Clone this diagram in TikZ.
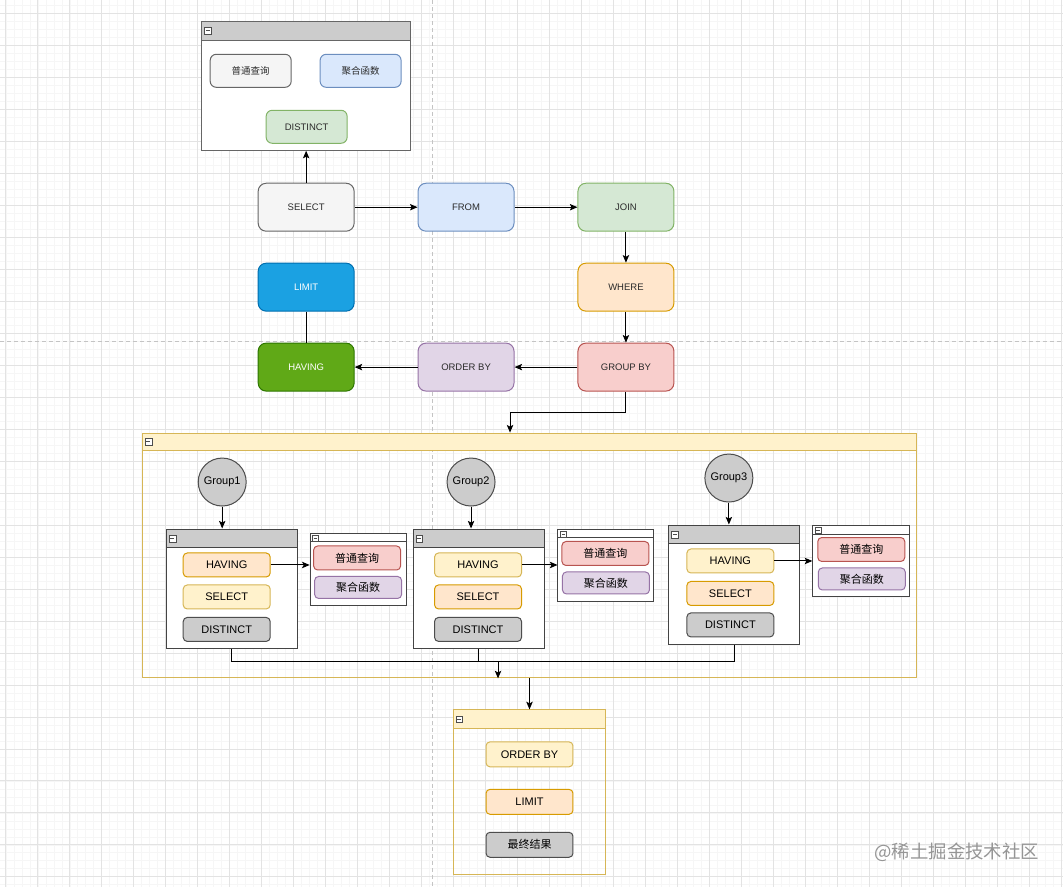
\documentclass[tikz,border=0pt]{standalone}
\usepackage{fontspec}
\setmainfont{Liberation Sans}
\newfontfamily\cjk{Noto Sans CJK SC}
\usetikzlibrary{arrows.meta}

\definecolor{gridmajor}{HTML}{E3E3E3}
\definecolor{gridminor}{HTML}{F6F6F6}
\definecolor{pageline}{HTML}{C4C4C4}
\definecolor{headgray}{HTML}{CCCCCC}
\definecolor{boxline}{HTML}{666666}
\definecolor{innerline}{HTML}{444444}
\definecolor{textgray}{HTML}{2B2B2B}
\definecolor{grayfill}{HTML}{F5F5F5}
\definecolor{grayline}{HTML}{666666}
\definecolor{bluefill}{HTML}{DAE8FC}
\definecolor{blueline}{HTML}{6C8EBF}
\definecolor{greenfill}{HTML}{D5E8D4}
\definecolor{greenline}{HTML}{82B366}
\definecolor{orangefill}{HTML}{FFE6CC}
\definecolor{orangeline}{HTML}{D79B00}
\definecolor{yellowfill}{HTML}{FFF2CC}
\definecolor{yellowline}{HTML}{D6B656}
\definecolor{redfill}{HTML}{F8CECC}
\definecolor{redline}{HTML}{B85450}
\definecolor{purplefill}{HTML}{E1D5E7}
\definecolor{purpleline}{HTML}{9673A6}
\definecolor{limitfill}{HTML}{1BA1E2}
\definecolor{limitline}{HTML}{006EAF}
\definecolor{havingfill}{HTML}{60A917}
\definecolor{havingline}{HTML}{2D7600}
\definecolor{darkfill}{HTML}{CCCCCC}
\definecolor{darkline}{HTML}{4D4D4D}
\definecolor{markgray}{HTML}{959595}

\begin{document}
\begin{tikzpicture}[x=0.5pt,y=-0.5pt,line width=0.5pt,
            >={Stealth[length=3.8pt,width=3.2pt,inset=0.8pt]},
            flow node/.style={draw,rounded corners=4pt,minimum width=48pt,minimum height=24pt,
              inner sep=0pt,text=textgray,font=\fontsize{4.75}{6}\selectfont},
            top node/.style={draw,rounded corners=3pt,minimum width=40.5pt,minimum height=16.5pt,
              inner sep=0pt,text=textgray,font=\fontsize{4.75}{6}\selectfont},
            small node/.style={draw,rounded corners=2pt,minimum width=43.5pt,minimum height=12pt,
              inner sep=0pt,text=black,font=\fontsize{5.5}{6.5}\selectfont},
            group node/.style={circle,draw=darkline,fill=darkfill,minimum size=24pt,
              inner sep=0pt,font=\fontsize{5.5}{6.5}\selectfont},
            container/.style={draw,inner sep=0pt},
            head/.style={draw,inner sep=0pt},
            icon/.style={draw=darkline,fill=white,line width=0.3pt,minimum size=3.4pt,inner sep=0pt,anchor=west,
              path picture={\draw[line width=0.35pt] ([xshift=0.7pt]path picture bounding box.west)
                -- ([xshift=-0.7pt]path picture bounding box.east);}},
            link/.style={->,black},
            tone gray/.style={fill=grayfill,draw=grayline},
            tone blue/.style={fill=bluefill,draw=blueline},
            tone green/.style={fill=greenfill,draw=greenline},
            tone orange/.style={fill=orangefill,draw=orangeline},
            tone yellow/.style={fill=yellowfill,draw=yellowline},
            tone red/.style={fill=redfill,draw=redline},
            tone purple/.style={fill=purplefill,draw=purpleline},
            tone dark/.style={fill=darkfill,draw=darkline}]

        % Background grid and page breaks
        \fill[white] (0,0) rectangle (1063,887);
        \foreach \gx in {5.5,13.5,...,1063} \draw[gridminor,line width=0.3pt] (\gx,0) -- (\gx,887);
        \foreach \gy in {5,13,...,887} \draw[gridminor,line width=0.3pt] (0,\gy) -- (1063,\gy);
        \foreach \gx in {5.5,37.5,...,1063} \draw[gridmajor,line width=0.35pt] (\gx,0) -- (\gx,887);
        \foreach \gy in {13,45,...,887} \draw[gridmajor,line width=0.35pt] (0,\gy) -- (1063,\gy);
        \draw[pageline,dashed,dash pattern=on 2pt off 1.5pt,line width=0.35pt] (432,0) -- (432,887);
        \draw[pageline,dashed,dash pattern=on 2pt off 1.5pt,line width=0.35pt] (0,341) -- (1063,341);

        % SELECT contents
        \node[container,fill=white,draw=boxline,minimum width=104.5pt,minimum height=64.5pt] (select-box) at (306,85.5) {};
        \node[head,fill=headgray,draw=boxline,minimum width=104.5pt,minimum height=9.5pt,anchor=north] (select-head) at (select-box.north) {};
        \node[icon] at ([xshift=1.5pt]select-head.west) {};
        \node[top node,tone gray] (plain-top) at (250.5,70.5) {\cjk 普通查询};
        \node[top node,tone blue] (agg-top) at (360.5,70.5) {\cjk 聚合函数};
        \node[top node,tone green] (distinct-top) at (306.5,126.5) {DISTINCT};

        % Define vertices
        \node[flow node,tone gray] (select) at (306,207) {SELECT};
        \node[flow node,tone blue] (from) at (466,207) {FROM};
        \node[flow node,tone green] (join) at (626,207) {JOIN};
        \node[flow node,fill=limitfill,draw=limitline,text=white] (limit) at (306,287) {LIMIT};
        \node[flow node,tone orange] (where) at (626,287) {WHERE};
        \node[flow node,fill=havingfill,draw=havingline,text=white] (having) at (306,367) {HAVING};
        \node[flow node,tone purple] (orderby) at (466,367) {ORDER BY};
        \node[flow node,tone red] (groupby) at (626,367) {GROUP BY};

        % Groups container
        \node[container,draw=yellowline,minimum width=387.5pt,minimum height=122.5pt] (groups) at (529.5,555.5) {};
        \node[head,tone yellow,minimum width=387.5pt,minimum height=8.5pt,anchor=north] (groups-head) at (groups.north) {};
        \node[icon] at ([xshift=1.5pt]groups-head.west) {};

        \node[group node] (group1) at (222,482) {Group1};
        \node[group node] (group2) at (471,482) {Group2};
        \node[group node] (group3) at (729,478) {Group3};

        % Group 1
        \node[container,fill=white,draw=innerline,minimum width=65.5pt,minimum height=60pt] (g1-box) at (231.5,589) {};
        \node[head,fill=headgray,draw=innerline,minimum width=65.5pt,minimum height=9.5pt,anchor=north] (g1-head) at (g1-box.north) {};
        \node[icon] at ([xshift=1.5pt]g1-head.west) {};
        \node[small node,tone orange] (g1-having) at (226.5,565) {HAVING};
        \node[small node,tone yellow] (g1-select) at (226.5,597) {SELECT};
        \node[small node,tone dark] (g1-distinct) at (226.5,629.5) {DISTINCT};
        \node[container,fill=white,draw=innerline,minimum width=48pt,minimum height=36.5pt] (g1-side) at (358,569.5) {};
        \node[head,fill=white,draw=innerline,minimum width=48pt,minimum height=4.5pt,anchor=north] (g1-side-head) at (g1-side.north) {};
        \node[icon,minimum size=3pt] at ([xshift=1.2pt,yshift=-0.6pt]g1-side-head.west) {};
        \node[small node,tone red] (g1-plain) at (357,558) {\cjk 普通查询};
        \node[small node,tone purple,minimum height=11pt] (g1-agg) at (358,587.5) {\cjk 聚合函数};

        % Group 2
        \node[container,fill=white,draw=innerline,minimum width=65.5pt,minimum height=60pt] (g2-box) at (478.5,589) {};
        \node[head,fill=headgray,draw=innerline,minimum width=65.5pt,minimum height=9.5pt,anchor=north] (g2-head) at (g2-box.north) {};
        \node[icon] at ([xshift=1.5pt]g2-head.west) {};
        \node[small node,tone yellow] (g2-having) at (478,565) {HAVING};
        \node[small node,tone orange] (g2-select) at (478,597) {SELECT};
        \node[small node,tone dark] (g2-distinct) at (478,629.5) {DISTINCT};
        \node[container,fill=white,draw=innerline,minimum width=48pt,minimum height=36.5pt] (g2-side) at (606,565.5) {};
        \node[head,fill=white,draw=innerline,minimum width=48pt,minimum height=4pt,anchor=north] (g2-side-head) at (g2-side.north) {};
        \node[icon,minimum size=3pt] at ([xshift=1.2pt,yshift=-0.6pt]g2-side-head.west) {};
        \node[small node,tone red] (g2-plain) at (605.5,553.5) {\cjk 普通查询};
        \node[small node,tone purple,minimum height=11pt] (g2-agg) at (606,583) {\cjk 聚合函数};

        % Group 3
        \node[container,fill=white,draw=innerline,minimum width=65.5pt,minimum height=60pt] (g3-box) at (734.5,585) {};
        \node[head,fill=headgray,draw=innerline,minimum width=65.5pt,minimum height=9.5pt,anchor=north] (g3-head) at (g3-box.north) {};
        \node[icon] at ([xshift=1.5pt]g3-head.west) {};
        \node[small node,tone yellow] (g3-having) at (730.5,561) {HAVING};
        \node[small node,tone orange] (g3-select) at (730.5,593.5) {SELECT};
        \node[small node,tone dark] (g3-distinct) at (730.5,625) {DISTINCT};
        \node[container,fill=white,draw=innerline,minimum width=48.5pt,minimum height=36pt] (g3-side) at (861.5,561) {};
        \node[head,fill=white,draw=innerline,minimum width=48.5pt,minimum height=4.5pt,anchor=north] (g3-side-head) at (g3-side.north) {};
        \node[icon,minimum size=3pt] at ([xshift=1.2pt,yshift=-0.6pt]g3-side-head.west) {};
        \node[small node,tone red] (g3-plain) at (861.5,549.5) {\cjk 普通查询};
        \node[small node,tone purple,minimum height=11pt] (g3-agg) at (862,579) {\cjk 聚合函数};

        % Result container
        \node[container,draw=yellowline,minimum width=76.5pt,minimum height=82.5pt] (result-box) at (529.5,792.5) {};
        \node[head,tone yellow,minimum width=76.5pt,minimum height=9.5pt,anchor=north] (result-head) at (result-box.north) {};
        \node[icon] at ([xshift=1.5pt]result-head.west) {};
        \node[small node,tone yellow,minimum height=12.5pt] (r-orderby) at (529.5,754.5) {ORDER BY};
        \node[small node,tone orange,minimum height=12.5pt] (r-limit) at (529.5,802) {LIMIT};
        \node[small node,tone dark,minimum height=12.5pt] (r-final) at (529.5,845) {\cjk 最终结果};

        % Draw edges
        \path[link]
            (select.north) edge (select-box.south)
            (select) edge (from)
            (from) edge (join)
            (join) edge (where)
            (where) edge (groupby)
            (groupby) edge (orderby)
            (orderby) edge (having)
            (group1.south) edge (group1.south |- g1-box.north)
            (group2.south) edge (group2.south |- g2-box.north)
            (group3.south) edge (group3.south |- g3-box.north)
            (g1-having.east) edge (g1-having.east -| g1-side.west)
            (g2-having.east) edge (g2-having.east -| g2-side.west)
            (g3-having.east) edge (g3-having.east -| g3-side.west)
            (groups.south) edge (result-box.north);
        \draw (limit) -- (having);

        \coordinate (turn) at (510,412);
        \draw[link] (groupby.south) |- (turn) -- (turn |- groups.north);

        \coordinate (merge) at (498,662);
        \draw (g1-box.south) |- (merge);
        \draw (g2-box.south) |- (merge);
        \draw (g3-box.south) |- (merge);
        \draw[link] (merge) -- (merge |- groups.south);

        % Watermark
        \node[text=markgray,font=\cjk\fontsize{9.2}{11}\selectfont,inner sep=0pt] (mark) at (957,852) {@稀土掘金技术社区};

\end{tikzpicture}
\end{document}
